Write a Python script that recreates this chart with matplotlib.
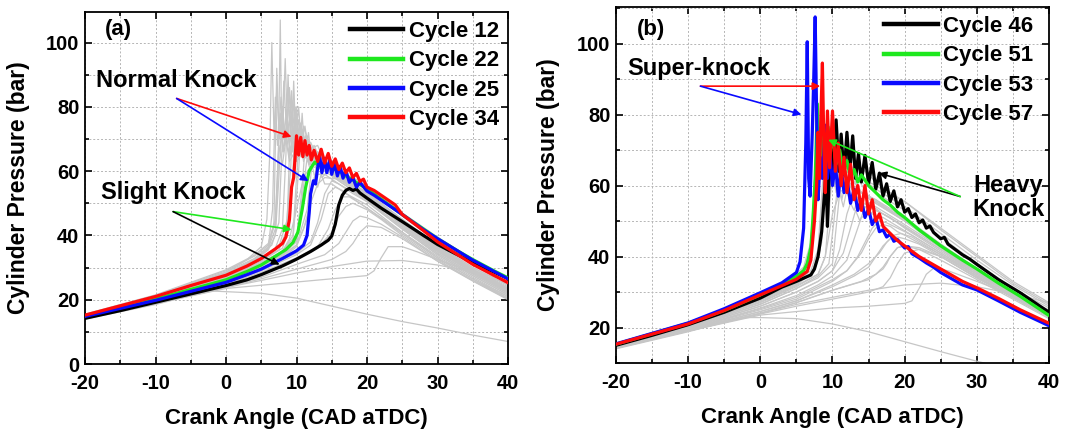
import matplotlib
matplotlib.use("Agg")
import matplotlib.pyplot as plt
from matplotlib.ticker import MultipleLocator

plt.rcParams["font.family"] = ["Liberation Sans", "DejaVu Sans"]
plt.rcParams["font.weight"] = "bold"
plt.rcParams["axes.unicode_minus"] = False

# ---------------- panel (a): highlighted cycles ----------------
a_labels = ["Cycle 12", "Cycle 22", "Cycle 25", "Cycle 34"]

a12_x = [-20, -15, -10, -5, 0, 3, 5, 8, 10, 12, 13.5, 14.5, 15, 15.5, 16, 16.5, 17, 17.5,
         18, 18.5, 19, 20, 22, 25, 28, 30, 33, 35, 38, 40]
a12_y = [14.2, 16.6, 19.2, 21.8, 24.4, 26.2, 27.8, 30.5, 32.6, 35.0, 37.0, 38.5, 39.8, 43.5,
         49.5, 52.5, 54.0, 54.6, 54.0, 54.4, 53.2, 51.6, 48.5, 44.3, 40.0, 37.2, 33.8, 31.6,
         28.6, 26.6]

a22_x = [-20, -10, -5, 0, 3, 5, 7, 8.5, 9.5, 10.2, 10.8, 11.3, 11.8, 12.2, 12.6, 13, 14, 15,
         16, 17, 18, 19, 20, 22, 25, 28, 30, 33, 35, 38, 40]
a22_y = [15.0, 20.2, 23.2, 26.2, 28.8, 30.8, 33.5, 35.6, 37.8, 41, 48, 55, 60, 61.5, 62.8,
         62.0, 62.2, 61.0, 60.0, 58.5, 57.2, 55.8, 54.5, 51.3, 46.5, 42.0, 39.0, 35.0, 32.5,
         29.0, 26.8]

a25_x = [-20, -10, -5, 0, 3, 5, 8, 10, 11, 11.5, 11.8, 12.0, 12.2, 12.4, 12.7, 13.0, 13.3,
         13.6, 14.0, 14.3, 14.7, 15.0, 15.4, 15.8, 16.2, 16.6, 17.0, 17.5, 18, 18.5, 19, 20,
         21, 22, 23, 24, 25, 28, 30, 35, 40]
a25_y = [14.8, 19.8, 22.6, 25.4, 27.8, 29.5, 32.8, 35.2, 37.0, 40.0, 47, 53, 55, 57, 56, 61,
         64.5, 59.5, 64, 59.5, 63.5, 59, 62.5, 58.5, 61.5, 57.8, 60.2, 56.5, 58, 55, 56.5,
         53.8, 52.5, 51, 49.5, 48.0, 46.5, 41.8, 39.0, 32.3, 26.5]

a34_x = [-20, -10, -5, 0, 3, 5, 7, 8, 8.5, 9.0, 9.3, 9.6, 9.8, 10.0, 10.3, 10.6, 10.9, 11.2,
         11.5, 11.8, 12.1, 12.5, 13, 13.5, 14, 14.5, 15, 15.5, 16, 16.5, 17, 17.5, 18, 18.5,
         19, 19.5, 20, 21, 22, 23, 24, 25, 28, 30, 35, 40]
a34_y = [15.2, 21.0, 24.4, 27.6, 30.5, 32.8, 35.8, 37.5, 39.5, 45, 55, 58, 64, 71, 65, 70.5,
         64.5, 69.5, 65, 68, 63.5, 66.5, 63, 66.8, 62.5, 65.5, 61.5, 63.8, 60.5, 62.5, 59.5,
         61, 58, 59.3, 56.8, 57.5, 55, 54, 52.5, 51, 49.5, 46.5, 41.5, 38.0, 31.0, 25.3]

# panel (a): background cycles (grey), read trace by trace
a_grey = [
    ([-20, -10, 0, 4, 6, 7, 7.4, 7.7, 7.9, 8.2, 8.6, 9.0, 9.5, 10, 10.5, 11, 12, 13, 14, 15,
      17, 20, 25, 30, 35, 40],
     [15, 20.5, 27.5, 32, 36, 42, 60, 107, 70, 88, 72, 84, 70, 78, 68, 74, 67, 68, 63, 62, 58,
      53, 45, 37, 30, 24.5]),
    ([-20, -10, 0, 3, 5, 5.8, 6.2, 6.5, 6.8, 7.2, 7.6, 8.0, 8.5, 9, 9.5, 10, 11, 12, 13, 14,
      16, 18, 20, 25, 30, 35, 40],
     [15.3, 21, 28.5, 32.5, 36.5, 45, 65, 100, 72, 85, 70, 80, 69, 76, 66, 72, 64, 68, 62, 63,
      59, 56, 53, 44.5, 36.5, 29.5, 23.5]),
    ([-20, -10, 0, 4, 6.5, 7.5, 8.0, 8.4, 8.7, 9.0, 9.4, 9.8, 10.2, 10.6, 11, 11.5, 12, 13, 14,
      15, 17, 20, 25, 30, 35, 40],
     [15.1, 20.8, 28, 32.5, 37, 44, 70, 95, 74, 86, 72, 80, 70, 75, 67, 71, 65, 66, 62, 61.5,
      58, 52.5, 44, 36, 29, 23]),
    ([-20, -10, 0, 4, 7, 8, 8.5, 8.8, 9.1, 9.5, 9.9, 10.3, 10.8, 11.3, 12, 13, 14, 16, 18, 20,
      25, 30, 35, 40],
     [14.9, 20.5, 27.2, 31.5, 36, 42, 65, 90, 72, 82, 70, 76, 68, 71, 65, 65, 61, 59, 55.5,
      52.5, 44, 36, 29.5, 23.5]),
    ([-20, -10, 0, 5, 7.5, 8.7, 9.0, 9.3, 9.6, 10, 10.4, 10.9, 11.4, 12, 13, 14, 16, 18, 20,
      25, 30, 35, 40],
     [14.8, 20.3, 27, 32.5, 36.5, 45, 66, 85, 70, 80, 68, 73, 66, 69, 64, 63, 59, 55.5, 52,
      43.5, 35.5, 28.5, 22.5]),
    ([-20, -10, 0, 4, 6, 7, 7.5, 8, 8.3, 8.7, 9.1, 9.6, 10.2, 11, 12, 13, 15, 17, 20, 25, 30,
      35, 40],
     [15.2, 21, 28, 32, 35.5, 40, 58, 80, 68, 76, 66, 72, 66, 68, 63, 64, 60, 57, 53, 44.5,
      36.5, 29.5, 24]),
    ([-20, -10, 0, 5, 8, 9, 9.5, 9.8, 10.2, 10.6, 11, 11.5, 12, 13, 14, 16, 18, 20, 25, 30,
      35, 40],
     [14.8, 20.3, 26.8, 32, 36, 42, 60, 76, 66, 72, 64, 68, 63, 64, 61, 58, 55, 52, 43, 35,
      28.5, 22.5]),
    ([-20, -10, 0, 5, 8, 9.5, 10, 10.5, 11, 11.5, 12, 13, 14, 16, 18, 20, 25, 30, 35, 40],
     [14.7, 20, 26.5, 31.5, 35, 40, 58, 72, 63, 68, 62, 63, 60, 57, 54, 51, 42.5, 34.5, 28,
      22]),
    ([-20, -10, 0, 5, 8, 10, 10.8, 11.5, 12, 12.5, 13, 14, 16, 18, 20, 25, 30, 35, 40],
     [14.6, 19.8, 26, 31, 34, 38, 52, 64, 60, 63, 59, 59, 56, 53, 50.5, 42, 34, 27.5, 21.5]),
    ([-20, -10, 0, 5, 8, 10, 11.5, 12.5, 13, 13.5, 14, 15, 17, 20, 25, 30, 35, 40],
     [14.5, 19.6, 25.5, 30, 33, 36.5, 45, 58, 55, 59, 56, 56, 53, 49.5, 41, 33.5, 27, 21]),
    ([-20, -10, 0, 5, 10, 12, 13.5, 14.5, 15.5, 16.5, 18, 20, 25, 30, 35, 40],
     [14.4, 19.4, 25, 29, 34, 37, 45, 53, 55, 54, 51.5, 48.5, 40.5, 33, 26.5, 20.5]),
    ([-20, -10, 0, 5, 10, 13, 15, 16, 17, 18, 20, 22, 25, 30, 35, 40],
     [14.3, 19.2, 24.5, 28, 32.5, 36, 41, 46, 49, 50, 48, 45, 40, 32.5, 26, 20.2]),
    ([-20, -10, 0, 5, 10, 14, 16, 17, 18, 19, 20, 22, 25, 30, 35, 40],
     [14.2, 19, 24, 27, 31, 34, 37.5, 41, 44.5, 46, 45.5, 43.5, 39.5, 32, 25.8, 20]),
    ([-20, -10, 0, 5, 10, 15, 17, 18, 19, 20, 22, 25, 30, 35, 40],
     [14.3, 19, 23.8, 26.5, 29.5, 32.5, 35, 37.5, 41, 43, 42.5, 39, 32, 26, 20.5]),
    ([-20, -10, 0, 5, 8, 9, 10, 11, 12, 13, 15, 17, 20, 25, 30, 35, 40],
     [14.6, 20, 26.5, 31.5, 35, 39, 48, 58, 61.5, 61, 59.5, 57, 53, 44, 36, 29, 23]),
    ([-20, -10, 0, 5, 8, 10, 11, 12, 13, 14, 16, 18, 20, 25, 30, 35, 40],
     [14.5, 19.8, 26, 30.5, 34, 37, 42, 50, 56, 58, 57.5, 55, 52, 43.5, 35.5, 28.5, 22.5]),
    ([-20, -10, 0, 4, 6, 6.8, 7.2, 7.5, 7.8, 8.2, 8.6, 9, 9.5, 10, 11, 12, 13, 15, 17, 20, 25,
      30, 35, 40],
     [15.2, 20.9, 28.2, 32.2, 36, 44, 92, 72, 83, 70, 79, 68, 74, 66, 69, 64, 64, 60, 57, 52.5,
      44, 36, 29, 23.5]),
    ([-20, -10, 0, 5, 7.5, 8.5, 9.2, 9.6, 9.9, 10.3, 10.7, 11.2, 11.7, 12.5, 13.5, 15, 17, 20,
      25, 30, 35, 40],
     [14.9, 20.4, 27.3, 32.5, 35.5, 41, 62, 88, 70, 80, 68, 74, 66, 68, 63, 61, 57.5, 52.5,
      43.5, 35.5, 29, 23]),
    ([-20, -10, 0, 4, 6, 6.6, 7.0, 7.3, 7.7, 8.1, 8.6, 9.2, 10, 11, 12, 14, 16, 18, 20, 25, 30,
      35, 40],
     [15.3, 21.1, 28.6, 32.8, 36.5, 48, 83, 68, 78, 66, 74, 65, 70, 64, 66, 62, 59, 56, 53.5,
      45, 37, 30, 24.5]),
    ([-20, -10, 0, 5, 8, 9.5, 10.3, 10.8, 11.2, 11.7, 12.2, 13, 14, 16, 18, 20, 25, 30, 35,
      40],
     [14.7, 20.1, 26.8, 31.5, 35, 39, 60, 78, 64, 72, 62, 66, 61, 58, 55, 52, 43.5, 35.5, 29,
      23]),
    ([-20, -10, 0, 5, 8, 10, 10.8, 11.3, 11.8, 12.3, 13, 14, 15, 17, 20, 25, 30, 35, 40],
     [14.6, 19.9, 26.3, 31, 34, 38.5, 55, 70, 62, 66, 61, 62, 59, 56, 52, 43, 35, 28.5, 22.5]),
    ([-20, -10, 0, 5, 8, 10, 11.5, 12.2, 12.6, 13.1, 13.6, 14.5, 16, 18, 20, 25, 30, 35, 40],
     [14.5, 19.7, 25.8, 30.5, 33.5, 37, 48, 62, 58, 64, 58, 60, 57, 54, 51, 42.5, 34.5, 28,
      22]),
    ([-20, -10, 0, 5, 10, 12, 13, 14, 15, 16, 18, 20, 25, 30, 35, 40],
     [14.4, 19.5, 25.2, 29.5, 34.5, 38, 44, 53, 57, 56, 53.5, 50.5, 42, 34, 27.5, 21.5]),
    ([-20, -10, 0, 5, 10, 13, 14.5, 15.5, 16.5, 17.5, 19, 21, 25, 30, 35, 40],
     [14.3, 19.3, 24.8, 28.5, 33, 36.5, 42, 48, 52, 52, 50, 47, 41, 33, 26.5, 21]),
    ([-20, -10, 0, 4, 6, 7, 7.6, 8.1, 8.5, 9, 9.5, 10, 11, 12, 14, 16, 18, 20, 25, 30, 35, 40],
     [15.4, 21.3, 29, 33.5, 37, 44, 75, 66, 73, 64, 70, 63, 66, 62, 63, 60, 57, 54.5, 46, 38,
      31, 25.5]),
    ([-20, -10, 0, 4, 6, 7, 7.5, 8, 8.5, 9, 10, 11, 12, 14, 16, 18, 20, 25, 30, 35, 40],
     [15.5, 21.5, 29.3, 33.8, 37.5, 45, 68, 62, 70, 63, 67, 64, 65, 62, 60, 58, 55.5, 47,
      39.5, 32.5, 26.8]),
    ([-20, -10, 0, 5, 10, 15, 20, 21, 22, 23, 25, 27, 30, 35, 40],
     [14.2, 18.8, 23.5, 24.5, 25.5, 26.5, 27.5, 29, 33, 36.5, 36.5, 35, 32.5, 28.5, 25]),
    ([-20, -10, 0, 5, 10, 15, 20, 25, 30, 35, 40],
     [14.2, 18.8, 23.8, 26, 28.3, 30.3, 32, 32.2, 30.8, 28.7, 26]),
    ([-20, -10, -5, -2, 0, 5, 10, 15, 20, 25, 30, 35, 40],
     [14, 18.5, 21.3, 22.7, 22.5, 22, 20.5, 18, 15.5, 13.2, 11.2, 9, 7]),
]

# ---------------- panel (b): highlighted cycles ----------------
b_labels = ["Cycle 46", "Cycle 51", "Cycle 53", "Cycle 57"]

b46_x = [-20, -15, -10, -5, 0, 3, 5, 7, 7.5, 8, 8.5, 8.9, 9.1, 9.3, 9.5, 9.8, 10.1, 10.5,
         10.9, 11.2, 11.6, 12.0, 12.4, 12.8, 13.2, 13.6, 14.0, 14.5, 15.0, 15.5, 16.0, 16.5,
         17.0, 17.5, 18.0, 18.5, 19.0, 19.5, 20, 20.5, 21, 21.5, 22, 22.5, 23, 23.5, 24, 25,
         25.5, 26, 27, 28, 29, 30, 33, 36, 40]
b46_y = [15, 17.8, 20.8, 24.3, 28.3, 31.4, 33, 34.8, 36.5, 40, 47, 58, 64, 48.5, 60, 72, 62,
         78.5, 64, 74.5, 63, 75, 64, 74, 62, 69, 61, 68.5, 60.5, 66.5, 59, 63.5, 57, 60.5,
         55.5, 58.5, 54, 56, 52.5, 53.5, 51, 52, 49.5, 50.3, 48, 48.6, 46.8, 45, 45.4, 43.5,
         42, 40.5, 39.3, 37.8, 33.5, 29.8, 24.3]

b51_x = [-20, -10, -5, 0, 3, 5, 6, 6.5, 7, 7.3, 7.6, 7.9, 8.1, 8.3, 8.5, 8.8, 9.1, 9.4, 9.7,
         10.0, 10.5, 11, 11.5, 12, 12.5, 13, 13.5, 14, 15, 16, 17, 18, 19, 20, 22, 25, 28, 30,
         33, 36, 40]
b51_y = [15.3, 21.2, 24.8, 29.2, 32.3, 34.4, 36, 38, 42.5, 51, 62, 83, 66, 76, 68, 75, 70,
         76.5, 70, 74, 66, 70, 64, 67, 62, 64.5, 61, 63, 60, 58, 56, 54.5, 52.5, 51, 47.5, 43,
         39, 36.5, 32.5, 28.8, 23.4]

b53_x = [-20, -10, -5, 0, 3, 5, 5.5, 6.0, 6.3, 6.5, 6.7, 6.9, 7.2, 7.4, 7.6, 7.8, 8.0, 8.3,
         8.6, 9.0, 9.3, 9.6, 10.0, 10.4, 10.8, 11.2, 11.6, 12, 12.5, 13, 13.5, 14, 14.5, 15,
         15.5, 16, 16.5, 17, 17.5, 18, 18.5, 19, 20, 20.5, 21, 22, 23, 24, 25, 28, 30, 33, 36,
         40]
b53_y = [15.4, 21.3, 25.3, 29.8, 32.6, 35.5, 38.5, 48, 72, 100.5, 62, 57, 75, 90, 107.5, 80,
         56, 68, 62, 77, 62, 70, 60, 66, 57, 65, 58, 62, 55, 59, 53, 56, 51, 53.5, 49, 51, 47,
         47.5, 45.5, 46.3, 44.3, 44.8, 42.4, 42.8, 40.8, 39.6, 38.2, 37, 35.5, 32, 30.6, 27.5,
         24.3, 20.5]

b57_x = [-20, -10, -5, 0, 3, 5, 6.5, 7, 7.5, 7.8, 8.0, 8.2, 8.4, 8.6, 8.8, 9.0, 9.3, 9.6, 10,
         10.4, 10.8, 11.2, 11.6, 12, 12.5, 13, 13.5, 14, 14.5, 15, 15.5, 16, 16.5, 17, 18, 19,
         20, 22, 25, 28, 30, 33, 36, 40]
b57_y = [15.3, 21.0, 24.8, 29.2, 31.8, 33.6, 35.8, 39, 50, 60, 75, 62, 80, 94.5, 72, 58, 81,
         65, 81, 64, 72, 60, 68, 58, 66, 56, 60, 53, 60, 52, 56, 50, 52, 48.5, 46.5, 44.5, 43,
         40, 36.5, 33, 31.2, 28.2, 25, 21.2]

b_grey = [
    ([-20, -10, 0, 4, 6, 7, 7.4, 7.8, 8.2, 8.6, 9, 9.5, 10, 11, 12, 13, 14, 16, 18, 20, 25,
      30, 35, 40],
     [15, 21, 28.5, 33, 36, 40, 55, 72, 62, 70, 60, 66, 62, 63, 60, 61, 58, 56, 53, 50.5, 43,
      36, 29.5, 24]),
    ([-20, -10, 0, 5, 7, 8, 8.5, 9, 9.4, 9.8, 10.3, 11, 12, 13, 14, 16, 18, 20, 25, 30, 35,
      40],
     [14.8, 20.5, 27.5, 32, 35, 40, 55, 68, 60, 66, 60, 64, 60, 61, 58, 55, 52.5, 50, 42.5,
      35.5, 29, 23.5]),
    ([-20, -10, 0, 5, 8, 9, 9.5, 10, 10.5, 11, 11.5, 12, 13, 14, 16, 18, 20, 25, 30, 35, 40],
     [14.7, 20.2, 27, 31.5, 35, 40, 52, 64, 58, 63, 58, 61, 58, 58, 55, 52.5, 50, 43, 36,
      29.5, 24]),
    ([-20, -10, 0, 5, 8, 10, 10.5, 11, 11.5, 12, 12.5, 13, 14, 16, 18, 20, 25, 30, 35, 40],
     [14.6, 20, 26.5, 31, 34, 38, 48, 58, 54, 59, 55, 57, 55, 54, 51.5, 49, 42.5, 35.5, 29.5,
      24]),
    ([-20, -10, 0, 5, 8, 10, 11, 12, 12.5, 13, 13.5, 14, 15, 17, 20, 25, 30, 35, 40],
     [14.5, 19.8, 26, 30, 33, 36, 42, 52, 55, 53, 56, 54, 54, 52, 48.5, 42, 35, 29, 23.5]),
    ([-20, -10, 0, 5, 8, 10, 12, 13, 14, 15, 16, 17, 18, 20, 25, 30, 35, 40],
     [14.4, 19.6, 25.5, 29, 32, 34.5, 39, 45, 51, 52, 53, 52, 51, 48, 41.5, 35, 29, 23.5]),
    ([-20, -10, 0, 5, 10, 12, 14, 15, 16, 17, 18, 19, 20, 25, 30, 35, 40],
     [14.3, 19.4, 25, 28, 33, 36, 41, 45, 48, 49, 48.5, 47, 46, 40.5, 34.5, 28.5, 23]),
    ([-20, -10, 0, 5, 10, 13, 15, 16, 17, 18, 19, 20, 22, 25, 30, 35, 40],
     [14.3, 19.3, 24.5, 27.5, 31.5, 34.5, 37, 40, 43, 45, 45.5, 45, 43.5, 40, 34, 28.5, 23]),
    ([-20, -10, 0, 5, 10, 14, 16, 17, 18, 19, 20, 22, 25, 30, 35, 40],
     [14.2, 19.1, 24, 27, 30.5, 33, 35, 37, 40, 42.5, 43, 42, 39, 33.5, 28, 22.5]),
    ([-20, -10, 0, 4, 6, 7, 7.5, 8, 8.5, 9, 9.5, 10, 11, 12, 13, 14, 16, 18, 20, 25, 30, 35,
      40],
     [15.2, 21.2, 28.8, 33, 36.5, 42, 60, 76, 66, 72, 64, 70, 66, 68, 64, 65, 61, 58, 55.5,
      47.5, 40, 32.5, 26.5]),
    ([-20, -10, 0, 5, 7.5, 8.5, 9, 9.5, 10, 10.5, 11, 12, 13, 14, 16, 18, 20, 25, 30, 35, 40],
     [15, 20.8, 28, 32.5, 36, 44, 62, 70, 64, 69, 63, 65, 62, 62, 59, 56.5, 54, 46.5, 39, 32,
      26]),
    ([-20, -10, 0, 4, 6, 7, 7.6, 8, 8.4, 8.8, 9.2, 9.7, 10.2, 11, 12, 13, 14, 16, 18, 20, 25,
      30, 35, 40],
     [15.1, 21, 28.5, 33, 36.5, 41, 58, 75, 64, 72, 63, 69, 62, 66, 61, 62, 58, 56, 53.5, 51,
      43.5, 36.5, 30, 24.5]),
    ([-20, -10, 0, 5, 7.5, 8.3, 8.8, 9.3, 9.8, 10.3, 10.8, 11.5, 12.5, 13.5, 15, 17, 20, 25,
      30, 35, 40],
     [14.9, 20.6, 27.8, 32.3, 36, 42, 60, 72, 62, 70, 61, 66, 60, 62, 57, 54, 50.5, 43, 36,
      29.5, 24]),
    ([-20, -10, 0, 5, 8, 9.5, 10.2, 10.8, 11.3, 11.8, 12.4, 13, 14, 15, 17, 19, 21, 25, 30,
      35, 40],
     [14.6, 20, 26.6, 31, 34.5, 38, 50, 62, 56, 61, 55, 58, 55, 55, 52, 49.5, 47, 42, 35.5,
      29.5, 24]),
    ([-20, -10, 0, 5, 8, 10, 11.5, 12.5, 13.2, 13.8, 14.5, 15.5, 17, 19, 21, 25, 30, 35, 40],
     [14.5, 19.8, 26, 30, 33, 36, 41, 48, 53, 50, 54, 52, 51, 48.5, 46, 41, 34.5, 28.5, 23]),
    ([-20, -10, 0, 5, 10, 12, 13.5, 14.5, 15.5, 16.5, 17.5, 19, 21, 25, 30, 35, 40],
     [14.4, 19.5, 25.3, 28.5, 33.5, 36, 40, 44, 48, 50, 49.5, 48, 46, 41, 35, 29, 23.5]),
    ([-20, -10, 0, 5, 10, 13, 15, 16.5, 17.5, 18.5, 19.5, 21, 23, 25, 30, 35, 40],
     [14.3, 19.3, 24.5, 27.5, 32, 35, 38, 41, 44, 46, 46.5, 45.5, 43, 40.5, 34.5, 28.5, 23]),
    ([-20, -10, 0, 5, 10, 15, 16, 17, 17.5, 18, 19, 20, 22, 25, 30, 35, 40],
     [14.2, 19, 24, 27, 30.5, 33.5, 35, 36.5, 38, 40, 42.5, 43, 42.5, 40, 34, 28.5, 23]),
    ([-20, -10, 0, 4, 6, 7, 7.5, 8, 8.5, 9, 9.5, 10, 11, 12, 14, 16, 18, 20, 25, 30, 35, 40],
     [15.3, 21.4, 29.2, 33.5, 37, 44, 62, 78, 67, 74, 65, 70, 64, 66, 62, 60, 57.5, 55.5, 48,
      40.5, 33, 27]),
    ([-20, -10, 0, 5, 7, 8, 8.6, 9.1, 9.6, 10.2, 11, 12, 13, 14, 16, 18, 20, 25, 30, 35, 40],
     [15.1, 21, 28.3, 32.8, 36, 42, 60, 70, 63, 68, 62, 64, 61, 61, 58, 55.5, 53, 45.5, 38, 31,
      25.5]),
    ([-20, -10, 0, 5, 8, 9, 10, 11, 12, 13, 14, 16, 18, 20, 25, 30, 35, 40],
     [14.8, 20.4, 27.2, 31.8, 35, 40, 52, 58, 60, 59, 58, 55.5, 53, 50.5, 43.5, 36.5, 30,
      24.5]),
    ([-20, -10, 0, 5, 10, 15, 17, 18, 19, 20, 22, 25, 30, 35, 40],
     [14.2, 19, 23.8, 26, 28, 30, 31.5, 34, 38, 41, 42, 40, 34, 28.5, 23]),
    ([-20, -10, 0, 5, 10, 15, 20, 21, 22, 23, 24, 26, 30, 35, 40],
     [14.2, 19, 23.5, 24.5, 25.5, 26, 26.8, 27.5, 31, 35, 36.7, 36, 33, 29, 25]),
    ([-20, -10, 0, 5, 10, 15, 20, 25, 30, 35, 40],
     [14.2, 19, 24, 26.5, 28.5, 30.5, 32, 32.5, 31.5, 29.5, 27]),
    ([-20, -10, -5, -2, 0, 5, 10, 15, 20, 25, 30, 33],
     [14, 18.8, 21.5, 22.8, 22.8, 22.5, 21, 18.8, 16, 13.2, 10.5, 9.0]),
]

COLORS = ["#000000", "#1ee81e", "#0a0aff", "#ff0a0a"]
GREY = "#c6c6c6"


def style_axes(ax, ylo, yhi):
    ax.set_xlim(-20, 40)
    ax.set_ylim(ylo, yhi)
    ax.xaxis.set_major_locator(MultipleLocator(10))
    ax.xaxis.set_minor_locator(MultipleLocator(5))
    ax.yaxis.set_major_locator(MultipleLocator(20))
    ax.yaxis.set_minor_locator(MultipleLocator(10))
    ax.grid(True, which="both", color="#b5b5b5", linestyle=(0, (2, 2)), linewidth=0.7)
    ax.set_axisbelow(True)
    ax.tick_params(which="both", direction="in", top=True, right=True, width=1.2)
    ax.tick_params(which="major", length=5, labelsize=14.5)
    ax.tick_params(which="minor", length=3)
    ax.tick_params(axis="x", pad=7.5)
    ax.tick_params(axis="y", pad=4)
    for sp in ax.spines.values():
        sp.set_linewidth(1.3)
    ax.set_xlabel("Crank Angle (CAD aTDC)", fontsize=16, fontweight="bold")
    ax.set_ylabel("Cylinder Pressure (bar)", fontsize=16.5, fontweight="bold")
    ax.xaxis.set_label_coords(0.5, -0.125)
    ax.yaxis.set_label_coords(-0.13, 0.5)


def arrow(ax, start, end, color):
    ax.annotate("", xy=end, xytext=start,
                arrowprops=dict(arrowstyle="-|>", color=color, lw=1.2,
                                mutation_scale=11, shrinkA=0, shrinkB=0))


fig = plt.figure(figsize=(10.65, 4.29), dpi=100)
ax_a = fig.add_axes([85 / 1065, 65 / 429, 423 / 1065, 352 / 429])
ax_b = fig.add_axes([616 / 1065, 66 / 429, 433 / 1065, 356 / 429])

# panel (a)
for gx, gy in a_grey:
    ax_a.plot(gx, gy, color=GREY, lw=0.9, zorder=2)
for (cx, cy), lab, col in zip([(a12_x, a12_y), (a22_x, a22_y), (a25_x, a25_y), (a34_x, a34_y)],
                              a_labels, COLORS):
    ax_a.plot(cx, cy, color=col, lw=2.3, label=lab, zorder=3)
style_axes(ax_a, 0, 109.5)
leg = ax_a.legend(loc="upper right", frameon=False, fontsize=16, handlelength=2.4,
                  handletextpad=0.25, labelspacing=0.38, borderpad=0.3, borderaxespad=0.1)
for h in leg.get_lines():
    h.set_linewidth(3.2)

ax_a.text(-15.3, 104.2, "(a)", fontsize=16, ha="center", va="center")
ax_a.text(-7.1, 88.3, "Normal Knock", fontsize=17, ha="center", va="center")
arrow(ax_a, (-7.0, 82.6), (9.3, 70.7), "#ff0a0a")
arrow(ax_a, (-7.0, 82.6), (11.7, 56.9), "#0a0aff")
ax_a.text(-7.5, 53.3, "Slight Knock", fontsize=17, ha="center", va="center")
arrow(ax_a, (-7.5, 47.4), (9.3, 41.8), "#1ee81e")
arrow(ax_a, (-7.5, 47.4), (7.6, 30.9), "#000000")

# panel (b)
for gx, gy in b_grey:
    ax_b.plot(gx, gy, color=GREY, lw=0.9, zorder=2)
for (cx, cy), lab, col in zip([(b46_x, b46_y), (b51_x, b51_y), (b53_x, b53_y), (b57_x, b57_y)],
                              b_labels, COLORS):
    ax_b.plot(cx, cy, color=col, lw=2.3, label=lab, zorder=3)
style_axes(ax_b, 10, 110.3)
leg = ax_b.legend(loc="upper right", bbox_to_anchor=(0.985, 1.0), frameon=False, fontsize=16,
                  handlelength=2.4, handletextpad=0.25, labelspacing=0.38, borderpad=0.3,
                  borderaxespad=0.1)
for h in leg.get_lines():
    h.set_linewidth(3.2)

ax_b.text(-15.1, 103.9, "(b)", fontsize=16, ha="center", va="center")
ax_b.text(-8.5, 93.1, "Super-knock", fontsize=17, ha="center", va="center")
arrow(ax_b, (-8.3, 88.0), (8.3, 88.0), "#ff0a0a")
arrow(ax_b, (-8.3, 88.0), (5.7, 80.0), "#0a0aff")
ax_b.text(34.4, 56.7, "Heavy\nKnock", fontsize=17, ha="center", va="center", linespacing=1.05)
arrow(ax_b, (27.7, 56.9), (16.4, 63.5), "#000000")
arrow(ax_b, (27.7, 56.9), (9.4, 72.9), "#1ee81e")

fig.savefig("out.png", dpi=100)
